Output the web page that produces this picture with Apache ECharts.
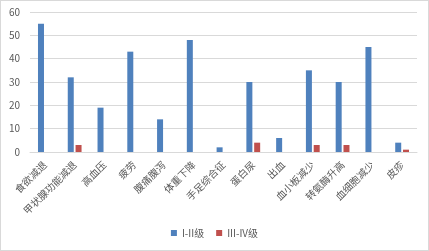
<!DOCTYPE html>
<html>
<head>
<meta charset="utf-8">
<script src="https://cdn.jsdelivr.net/npm/echarts@6/dist/echarts.min.js"></script>
<style>
  html, body { margin: 0; padding: 0; background: #fff; }
  #chart { width: 427px; height: 249px; border: 1px solid #d9d9d9; }
</style>
</head>
<body>
<div id="chart"></div>
<script>
var categories = ['食欲减退', '甲状腺功能减退', '高血压', '疲劳', '腹痛腹泻', '体重下降', '手足综合征', '蛋白尿', '出血', '血小板减少', '转氨酶升高', '血细胞减少', '皮疹'];
var gradeLow = [55, 32, 19, 43, 14, 48, 2, 30, 6, 35, 30, 45, 4];
var gradeHigh = [0, 3, 0, 0, 0, 0, 0, 4, 0, 3, 3, 0, 1];
var seriesNames = ['I-II级', 'III-IV级'];

var chart = echarts.init(document.getElementById('chart'));
var textColor = '#595959';
var font = '"Noto Sans CJK SC", sans-serif';

chart.setOption({
  animation: false,
  grid: { left: 29, right: 11, top: 11, bottom: 98 },
  legend: {
    bottom: 7,
    left: 'center',
    itemWidth: 6,
    itemHeight: 6,
    itemGap: 12,
    icon: 'rect',
    textStyle: { color: textColor, fontSize: 10, fontFamily: font },
    data: seriesNames
  },
  xAxis: {
    type: 'category',
    data: categories,
    axisLine: { lineStyle: { color: '#d9d9d9' } },
    axisTick: { show: false },
    axisLabel: {
      interval: 0,
      rotate: 45,
      color: textColor,
      fontSize: 10,
      fontFamily: font,
      margin: 11
    }
  },
  yAxis: {
    type: 'value',
    min: 0,
    max: 60,
    interval: 10,
    axisLine: { show: false },
    axisTick: { show: false },
    splitLine: { lineStyle: { color: '#d9d9d9' } },
    axisLabel: { color: textColor, fontSize: 10, fontFamily: font, margin: 10 }
  },
  series: [
    {
      name: seriesNames[0],
      type: 'bar',
      data: gradeLow,
      barWidth: 6,
      barGap: '30%',
      itemStyle: { color: '#4f81bd' }
    },
    {
      name: seriesNames[1],
      type: 'bar',
      data: gradeHigh,
      barWidth: 6,
      itemStyle: { color: '#c0504d' }
    }
  ]
});
</script>
</body>
</html>
